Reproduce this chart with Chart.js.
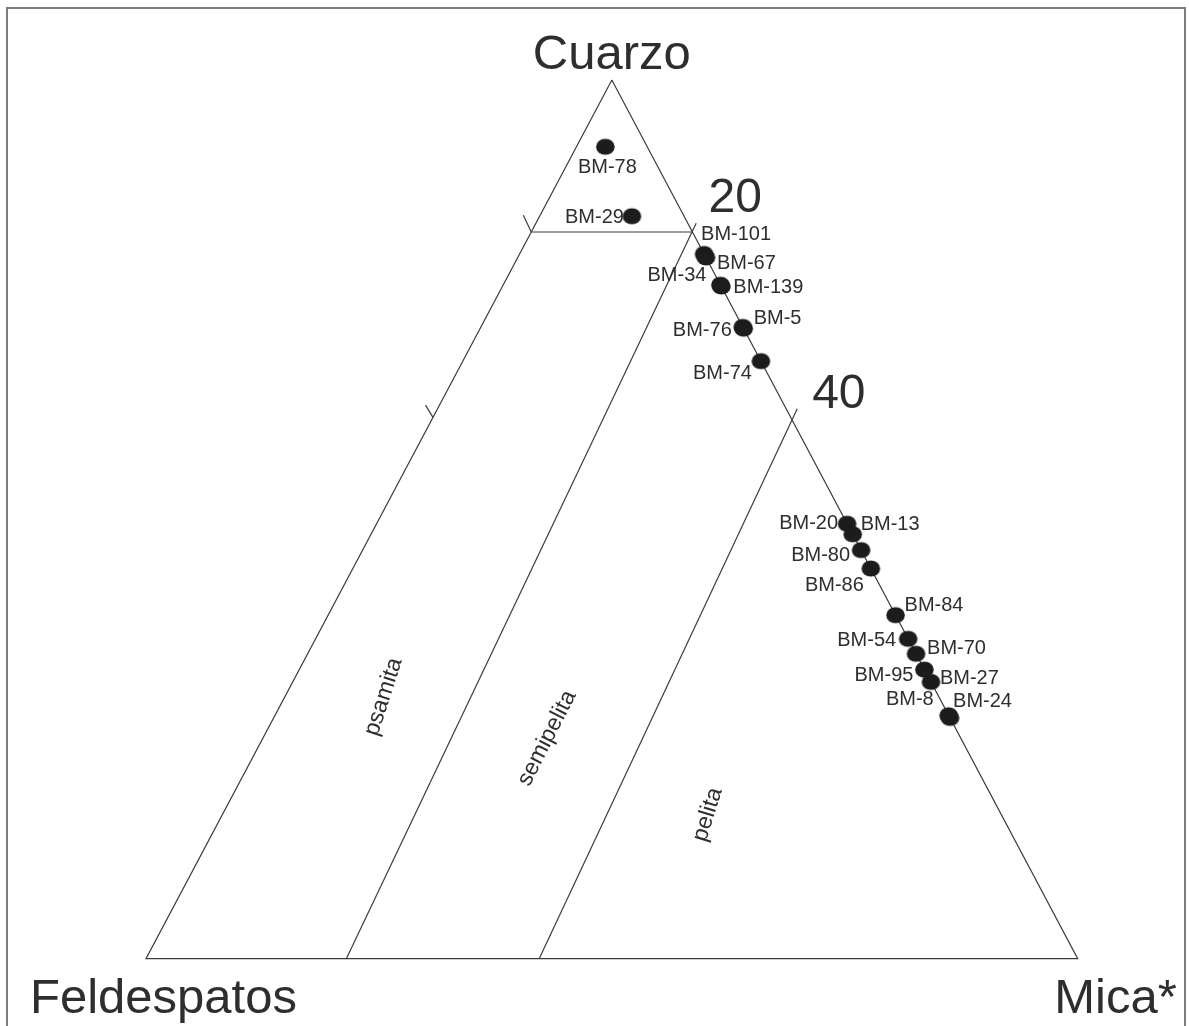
<!DOCTYPE html>
<html>
<head>
<meta charset="utf-8">
<title>Diagrama Cuarzo - Feldespatos - Mica</title>
<script src="https://cdn.jsdelivr.net/npm/chart.js@4.4.0/dist/chart.umd.min.js"></script>
<style>
  html, body { margin: 0; padding: 0; background: #fff; }
  #wrap { position: relative; width: 1189px; height: 1026px; overflow: hidden; }
  #c { position: absolute; left: 0; top: 0; }
  #frame { position: absolute; left: 6px; top: 7px; width: 1176px; height: 1100px;
           border: 2px solid #7d7d7d; pointer-events: none; }
</style>
</head>
<body>
<div id="wrap">
  <canvas id="c" width="1189" height="1026"></canvas>
  <div id="frame"></div>
</div>
<script>
// Muestras y composicion modal (%): Q = cuarzo, F = feldespatos, M = mica
const samples     = ['BM-78', 'BM-29', 'BM-101', 'BM-67', 'BM-34', 'BM-139', 'BM-76', 'BM-5', 'BM-74',
                     'BM-20', 'BM-13', 'BM-80', 'BM-86', 'BM-84', 'BM-54', 'BM-70', 'BM-95', 'BM-27', 'BM-8', 'BM-24'];
const cuarzo      = [92.4, 84.5, 80.2, 79.8, 76.7, 76.5, 71.9, 71.7, 68.0,
                     49.5, 48.3, 46.5, 44.4, 39.1, 36.4, 34.7, 32.9, 31.5, 27.7, 27.4];
const feldespatos = [4.5, 5.6, 0, 0, 0, 0, 0, 0, 0,
                     0, 0, 0, 0, 0, 0, 0, 0, 0, 0, 0];
const mica        = [3.1, 9.9, 19.8, 20.2, 23.3, 23.5, 28.1, 28.3, 32.0,
                     50.5, 51.7, 53.5, 55.6, 60.9, 63.6, 65.3, 67.1, 68.5, 72.3, 72.6];

// Vertices and field names
const corners     = ['Cuarzo', 'Feldespatos', 'Mica*'];
const fieldNames  = ['psamita', 'semipelita', 'pelita'];
const gradeLabels = ['20', '40'];

// Field boundaries, as [Q, F, M] end points
const capLine      = [[82.7, 17.3, 0], [82.7, 0, 17.3]];
const psamitaLimit = [[83.7, -0.9, 17.2], [0, 78.5, 21.5]];
const pelitaLimit  = [[62.6, -1.2, 38.6], [0, 57.8, 42.2]];
const leftTicks    = [[[82.7, 17.3, 0], [84.6, 17.2, -1.8]],
                      [[61.6, 38.4, 0], [63.0, 38.5, -1.5]]];

// Ternary -> cartesian (F at left, M at right, Q on top)
function toXY(q, f, m) { return { x: m + q / 2, y: q }; }
function seg(pair) { return pair.map(p => toXY(p[0], p[1], p[2])); }

// Label placement (pixels relative to each point), kept apart from the data
const labelPlace = {
  'BM-78':  [2, 21, 'center'],  'BM-29':  [-8, 1, 'right'],
  'BM-101': [-3, -19, 'left'],  'BM-67':  [11, 6, 'left'],
  'BM-34':  [-14, -9, 'right'], 'BM-139': [12, 1, 'left'],
  'BM-76':  [-11, 4, 'right'],  'BM-5':   [10, -10, 'left'],
  'BM-74':  [-9, 12, 'right'],  'BM-20':  [-9, 0, 'right'],
  'BM-13':  [8, -10, 'left'],   'BM-80':  [-11, 5, 'right'],
  'BM-86':  [-7, 17, 'right'],  'BM-84':  [9, -10, 'left'],
  'BM-54':  [-12, 2, 'right'],  'BM-70':  [11, -5, 'left'],
  'BM-95':  [-11, 6, 'right'],  'BM-27':  [9, -3, 'left'],
  'BM-8':   [-15, -16, 'right'],'BM-24':  [3, -16, 'left']
};
// field name anchors [Q, F, M, rotation in degrees]
const fieldLabelPos = [[29.8, 59.6, 10.6, -72], [25.1, 44.4, 30.5, -63], [16.4, 31.5, 52.1, -73]];

const FONT = '"Liberation Sans", Arial, Helvetica, sans-serif';
const INK = '#2e2e2e';
const LINE = '#3c3c3c';

// Elliptical marker
const dot = document.createElement('canvas');
dot.width = 21; dot.height = 19;
(function () {
  const g = dot.getContext('2d');
  g.fillStyle = '#1c1c1c';
  g.beginPath();
  g.ellipse(10.5, 9.5, 9.3, 8.1, 0, 0, Math.PI * 2);
  g.fill();
})();

const points = samples.map((s, i) => toXY(cuarzo[i], feldespatos[i], mica[i]));

function lineSet(data) {
  return { type: 'scatter', data, showLine: true, pointRadius: 0, borderColor: LINE,
           borderWidth: 1.2, clip: false, order: 1 };
}

const triangle = [[100, 0, 0], [0, 100, 0], [0, 0, 100], [100, 0, 0]].map(p => toXY(p[0], p[1], p[2]));

const labelsPlugin = {
  id: 'diagramText',
  afterDatasetsDraw(chart) {
    const ctx = chart.ctx;
    const xs = chart.scales.x, ys = chart.scales.y;
    const px = p => ({ x: xs.getPixelForValue(p.x), y: ys.getPixelForValue(p.y) });
    ctx.save();

    // sample names
    const meta = chart.getDatasetMeta(0);
    ctx.font = '20px ' + FONT;
    ctx.fillStyle = INK;
    ctx.textBaseline = 'middle';
    samples.forEach((s, i) => {
      const el = meta.data[i];
      const [dx, dy, al] = labelPlace[s];
      ctx.textAlign = al;
      ctx.fillText(s, el.x + dx, el.y + dy);
    });

    // vertices
    ctx.font = '49px ' + FONT;
    ctx.textBaseline = 'alphabetic';
    const top = px(toXY(100, 0, 0)), left = px(toXY(0, 100, 0)), right = px(toXY(0, 0, 100));
    ctx.textAlign = 'center'; ctx.fillText(corners[0], top.x, top.y - 11);
    ctx.textAlign = 'left';   ctx.fillText(corners[1], left.x - 116, left.y + 54);
    ctx.textAlign = 'right';  ctx.fillText(corners[2], right.x + 99, right.y + 54);

    // grade marks
    ctx.font = '48px ' + FONT;
    const g20 = px(toXY(capLine[1][0], capLine[1][1], capLine[1][2]));
    const g40 = px(toXY(61.3, 0, 38.7));
    ctx.textAlign = 'left';
    ctx.fillText(gradeLabels[0], g20.x + 16, g20.y - 20);
    ctx.fillText(gradeLabels[1], g40.x + 20, g40.y - 12);

    // field names
    ctx.font = '23px ' + FONT;
    ctx.textAlign = 'center';
    ctx.textBaseline = 'middle';
    fieldNames.forEach((n, i) => {
      const [q, f, m, rot] = fieldLabelPos[i];
      const p = px(toXY(q, f, m));
      ctx.save();
      ctx.translate(p.x, p.y);
      ctx.rotate(rot * Math.PI / 180);
      ctx.fillText(n, 0, 0);
      ctx.restore();
    });
    ctx.restore();
  }
};

new Chart(document.getElementById('c'), {
  type: 'scatter',
  data: {
    datasets: [
      { label: 'muestras', data: points, pointStyle: dot, pointRadius: 9, pointHoverRadius: 9,
        borderWidth: 0, clip: false, order: 0 },
      lineSet(triangle),
      lineSet(seg(capLine)),
      lineSet(seg(psamitaLimit)),
      lineSet(seg(pelitaLimit)),
      lineSet(seg(leftTicks[0])),
      lineSet(seg(leftTicks[1]))
    ]
  },
  options: {
    responsive: false,
    animation: false,
    events: [],
    layout: { padding: { left: 146, right: 111.3, top: 80, bottom: 67.3 } },
    scales: {
      x: { type: 'linear', min: 0, max: 100, display: false },
      y: { type: 'linear', min: 0, max: 100, display: false }
    },
    plugins: { legend: { display: false }, tooltip: { enabled: false } }
  },
  plugins: [labelsPlugin]
});
</script>
</body>
</html>
